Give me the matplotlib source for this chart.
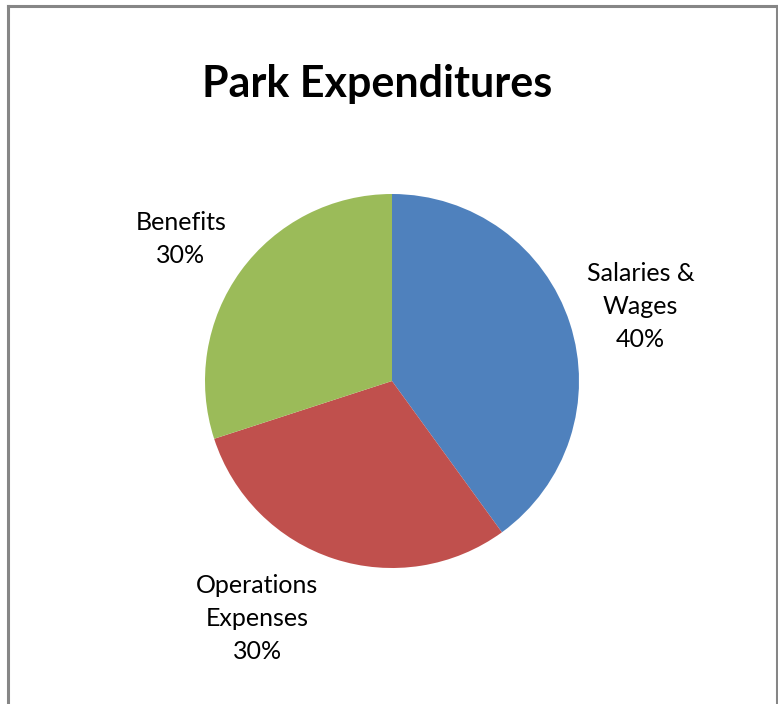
import matplotlib.pyplot as plt
from matplotlib.lines import Line2D

categories = ['Salaries &\nWages', 'Operations\nExpenses', 'Benefits']
shares = [40, 30, 30]
colors = ['#4F81BD', '#C0504D', '#9BBB59']
# label centres, in units of the pie radius
label_pos = [(1.33, 0.40), (-0.72, -1.27), (-1.13, 0.76)]

W, H = 778, 704
fig = plt.figure(figsize=(W / 100, H / 100), dpi=100)
plt.rcParams['font.family'] = ['Lato', 'DejaVu Sans']

cx, cy, r = 392, 381, 187
ax = fig.add_axes([(cx - r) / W, (H - cy - r) / H, 2 * r / W, 2 * r / H])
ax.pie(shares, colors=colors, startangle=90, counterclock=False,
       wedgeprops=dict(linewidth=0))
ax.set_xlim(-1, 1)
ax.set_ylim(-1, 1)
ax.set_aspect('equal')
ax.axis('off')

for name, val, (x, y) in zip(categories, shares, label_pos):
    ax.text(x, y, f'{name}\n{val}%', ha='center', va='center',
            fontsize=18, linespacing=1.52, color='black', clip_on=False)

fig.text(377 / W, 1 - 84 / H, 'Park Expenditures', ha='center', va='center',
         fontsize=31, fontweight='bold')

# chart border (bottom edge is cut off in the original)
bc = '#868686'
fig.add_artist(Line2D([8 / W, 8 / W], [0, 1 - 6 / H], color=bc, lw=2.2))
fig.add_artist(Line2D([8 / W, 777 / W], [1 - 6 / H, 1 - 6 / H], color=bc, lw=2.2))
fig.add_artist(Line2D([777 / W, 777 / W], [0, 1 - 6 / H], color=bc, lw=2.2))

fig.savefig('out.png', dpi=100)
